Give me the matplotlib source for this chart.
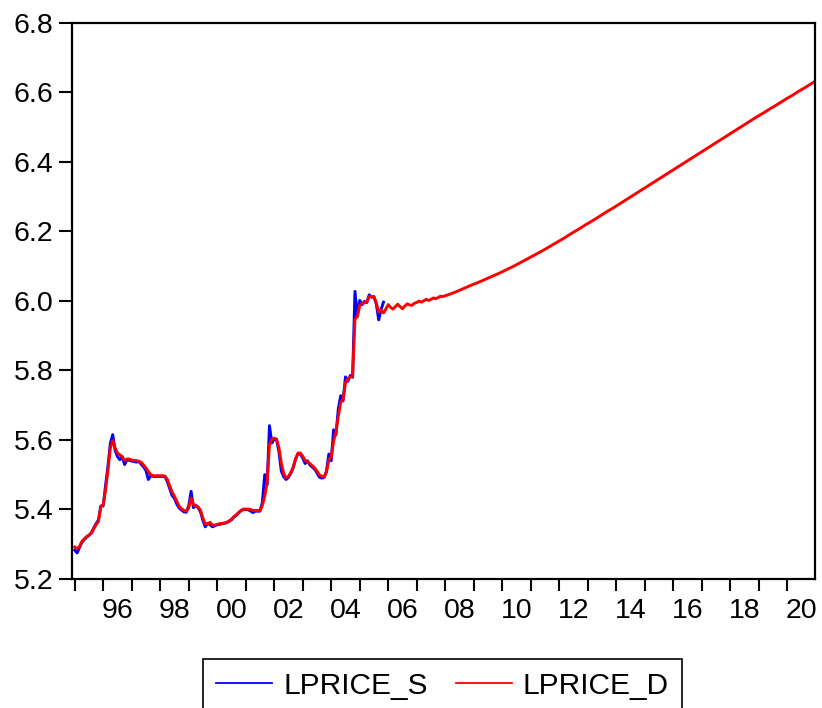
import numpy as np
import matplotlib.pyplot as plt

plt.rcParams["font.family"] = ["Liberation Sans", "DejaVu Sans"]

# monthly observations starting 1995M01
start_year = 1995

# LPRICE_S: 1995M01 - 2005M11
lprice_s = [
    5.283, 5.275, 5.290, 5.305, 5.313, 5.320, 5.325, 5.333, 5.347, 5.359, 5.370, 5.410,  # 1995
    5.410, 5.470, 5.525, 5.590, 5.615, 5.570, 5.552, 5.543, 5.552, 5.529, 5.543, 5.541,  # 1996
    5.539, 5.538, 5.536, 5.538, 5.530, 5.522, 5.512, 5.486, 5.497, 5.495, 5.495, 5.495,  # 1997
    5.495, 5.495, 5.494, 5.480, 5.460, 5.440, 5.432, 5.415, 5.404, 5.398, 5.393, 5.392,  # 1998
    5.410, 5.452, 5.405, 5.412, 5.405, 5.392, 5.368, 5.350, 5.360, 5.356, 5.350, 5.353,  # 1999
    5.356, 5.357, 5.359, 5.360, 5.362, 5.366, 5.370, 5.378, 5.383, 5.390, 5.396, 5.400,  # 2000
    5.400, 5.399, 5.396, 5.391, 5.395, 5.395, 5.395, 5.420, 5.500, 5.471, 5.641, 5.591,  # 2001
    5.602, 5.600, 5.565, 5.510, 5.494, 5.486, 5.492, 5.504, 5.520, 5.545, 5.560, 5.559,  # 2002
    5.548, 5.532, 5.540, 5.528, 5.522, 5.516, 5.505, 5.493, 5.490, 5.492, 5.510, 5.559,  # 2003
    5.540, 5.629, 5.615, 5.690, 5.727, 5.712, 5.781, 5.768, 5.785, 5.780, 6.027, 5.955,  # 2004
    6.001, 5.989, 5.998, 5.995, 6.017, 6.010, 6.012, 5.990, 5.945, 5.975, 5.996,         # 2005
]

# LPRICE_D: monthly 1995M01 - 2007M12
lprice_d_hist = [
    5.292, 5.288, 5.293, 5.308, 5.315, 5.322, 5.327, 5.331, 5.344, 5.356, 5.366, 5.407,  # 1995
    5.414, 5.457, 5.514, 5.577, 5.598, 5.577, 5.562, 5.557, 5.551, 5.541, 5.545, 5.545,  # 1996
    5.542, 5.541, 5.540, 5.539, 5.535, 5.528, 5.519, 5.509, 5.500, 5.497, 5.497, 5.497,  # 1997
    5.497, 5.497, 5.496, 5.486, 5.468, 5.450, 5.438, 5.423, 5.409, 5.402, 5.397, 5.395,  # 1998
    5.404, 5.433, 5.414, 5.411, 5.407, 5.397, 5.375, 5.358, 5.359, 5.363, 5.355, 5.355,  # 1999
    5.357, 5.359, 5.360, 5.361, 5.363, 5.367, 5.372, 5.379, 5.384, 5.391, 5.397, 5.401,  # 2000
    5.401, 5.401, 5.400, 5.397, 5.397, 5.397, 5.397, 5.411, 5.438, 5.476, 5.586, 5.602,  # 2001
    5.605, 5.602, 5.577, 5.533, 5.503, 5.491, 5.495, 5.506, 5.522, 5.545, 5.562, 5.562,  # 2002
    5.553, 5.541, 5.537, 5.532, 5.526, 5.520, 5.510, 5.500, 5.495, 5.494, 5.507, 5.543,  # 2003
    5.551, 5.596, 5.624, 5.668, 5.708, 5.716, 5.765, 5.775, 5.781, 5.783, 5.947, 5.955,  # 2004
    5.986, 5.993, 5.994, 5.997, 6.012, 6.012, 6.011, 5.993, 5.967, 5.974, 5.965, 5.976,  # 2005
    5.989, 5.981, 5.976, 5.983, 5.990, 5.983, 5.977, 5.985, 5.991, 5.988, 5.987, 5.993,  # 2006
    5.995, 5.999, 5.996, 6.000, 6.004, 6.001, 6.004, 6.008, 6.006, 6.009, 6.013, 6.012,  # 2007
]

# LPRICE_D: smooth part read at quarter ends (Mar, Jun, Sep, Dec), 2008 - 2020
lprice_d_fcst = [
    6.019, 6.027, 6.036, 6.045,  # 2008
    6.053, 6.062, 6.071, 6.080,  # 2009
    6.090, 6.100, 6.111, 6.122,  # 2010
    6.133, 6.144, 6.156, 6.168,  # 2011
    6.180, 6.193, 6.205, 6.218,  # 2012
    6.230, 6.243, 6.256, 6.268,  # 2013
    6.281, 6.294, 6.307, 6.320,  # 2014
    6.333, 6.346, 6.359, 6.372,  # 2015
    6.385, 6.398, 6.411, 6.424,  # 2016
    6.437, 6.450, 6.463, 6.476,  # 2017
    6.489, 6.502, 6.515, 6.528,  # 2018
    6.540, 6.553, 6.565, 6.578,  # 2019
    6.590, 6.603, 6.615, 6.628,  # 2020
]
fcst_start = 2008

year_ticks = list(range(1995, 2021))
labelled_years = list(range(1996, 2021, 2))
y_ticks = [5.2, 5.4, 5.6, 5.8, 6.0, 6.2, 6.4, 6.6, 6.8]

t_s = start_year + np.arange(len(lprice_s)) / 12
t_dh = start_year + np.arange(len(lprice_d_hist)) / 12
t_df = fcst_start + (np.arange(len(lprice_d_fcst)) * 3 + 2) / 12
t_d = np.concatenate([t_dh, t_df])
v_d = np.concatenate([lprice_d_hist, lprice_d_fcst])

fig = plt.figure(figsize=(8.22, 7.08), dpi=100)
ax = fig.add_axes([0.0876, 0.1822, 0.9039, 0.7860])

ls, = ax.plot(t_s, lprice_s, color="#0000FF", lw=2.1, label="LPRICE_S")
ld, = ax.plot(t_d, v_d, color="#FF0000", lw=2.1, label="LPRICE_D")

ax.set_xlim(1994.905, 2020.975)
ax.set_ylim(5.2, 6.8)

# year boundaries get ticks, labels sit in the middle of every second year
ax.set_xticks(year_ticks)
ax.set_xticklabels([])
ax.set_xticks([y + 0.5 for y in labelled_years], minor=True)
ax.set_xticklabels([f"{y % 100:02d}" for y in labelled_years], minor=True)
ax.tick_params(axis="x", which="major", direction="out", length=8.6, width=1.5)
ax.tick_params(axis="x", which="minor", length=0, pad=14.0, labelsize=20.5)

ax.set_yticks(y_ticks)
ax.set_yticklabels([f"{v:.1f}" for v in y_ticks])
ax.tick_params(axis="y", direction="out", length=9.4, width=1.5, pad=4.0, labelsize=20.5)

for sp in ax.spines.values():
    sp.set_linewidth(1.6)
    sp.set_color("black")

leg = fig.legend(handles=[ls, ld], loc="upper center", ncol=2,
                 bbox_to_anchor=(0.5383, 0.0692), bbox_transform=fig.transFigure,
                 fontsize=21.5, frameon=True, fancybox=False, edgecolor="black",
                 framealpha=1, borderpad=0.43, borderaxespad=0, handlelength=1.87,
                 handletextpad=0.37, columnspacing=0.94)
leg.get_frame().set_linewidth(1.2)
for h in leg.get_lines():
    h.set_linewidth(1.3)

fig.savefig("out.png", dpi=100)
